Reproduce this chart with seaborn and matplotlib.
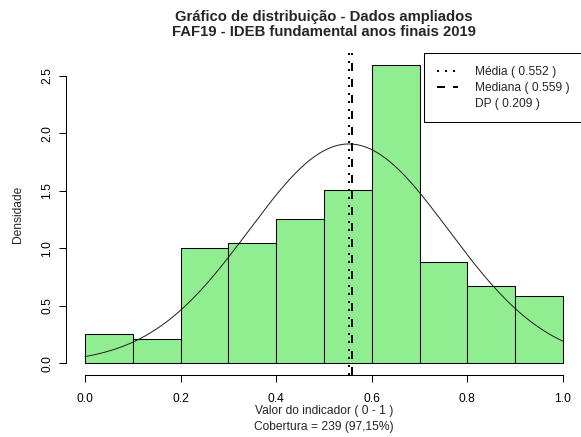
import numpy as np
import matplotlib
matplotlib.use("Agg")
from matplotlib import pyplot as plt
from matplotlib.lines import Line2D
import seaborn as sns

# Histogram data
bin_edges = [0.0, 0.1, 0.2, 0.3, 0.4, 0.5, 0.6, 0.7, 0.8, 0.9, 1.0]
bin_counts = [6, 5, 24, 25, 30, 36, 62, 21, 16, 14]
mean_value = 0.552
median_value = 0.559
sd_value = 0.209
n_total = 239
coverage_pct = "97,15%"

x_ticks = [0.0, 0.2, 0.4, 0.6, 0.8, 1.0]
y_ticks = [0.0, 0.5, 1.0, 1.5, 2.0, 2.5]

title_lines = ["Gráfico de distribuição - Dados ampliados",
               "FAF19 - IDEB fundamental anos finais 2019"]

sns.set_style("ticks")
plt.rcParams["font.family"] = ["Liberation Sans", "DejaVu Sans"]

W, H = 581, 437
fs = 8.64
fig = plt.figure(figsize=(W / 100, H / 100), dpi=100)
ax = fig.add_axes([66 / W, 1 - 375.2 / H, 516 / W, (375.2 - 53.3) / H])

centers = [(a + b) / 2 for a, b in zip(bin_edges[:-1], bin_edges[1:])]
sns.histplot(x=centers, weights=bin_counts, bins=bin_edges, stat="density",
             color="#90EE90", edgecolor="black", linewidth=0.75, alpha=1, ax=ax)

# normal curve with the chart's mean and sd
xs = np.linspace(0, 1, 201)
ys = np.exp(-0.5 * ((xs - mean_value) / sd_value) ** 2) / (sd_value * np.sqrt(2 * np.pi))
sns.lineplot(x=xs, y=ys, color="#222222", linewidth=0.72, ax=ax)

ax.axvline(mean_value, color="black", linewidth=1.44, linestyle=(0, (1, 3)))
ax.axvline(median_value, color="black", linewidth=1.44, linestyle=(0, (4, 4)))

# R-like axis limits (4% expansion)
dens_max = max(bin_counts) / (n_total * 0.1)
ax.set_xlim(-0.04, 1.04)
ax.set_ylim(-0.04 * dens_max, dens_max * 1.04)

ax.set_xticks(x_ticks)
ax.set_xticklabels([f"{v:.1f}" for v in x_ticks], fontsize=fs)
ax.set_yticks(y_ticks)
ax.set_yticklabels([f"{v:.1f}" for v in y_ticks], fontsize=fs, rotation=90, va="center")
ax.tick_params(axis="both", length=5, width=0.75, color="black", labelcolor="black")
ax.tick_params(axis="x", pad=7.6)
ax.tick_params(axis="y", pad=4.2)
sns.despine(ax=ax)
ax.spines["left"].set_bounds(0, 2.5)
ax.spines["bottom"].set_bounds(0, 1)
for s in ("left", "bottom"):
    ax.spines[s].set_linewidth(0.75)
    ax.spines[s].set_color("black")
ax.set_xlabel("")
ax.set_ylabel("")

handles = [Line2D([], [], color="black", linewidth=1.44, linestyle=(0, (1, 3))),
           Line2D([], [], color="black", linewidth=1.44, linestyle=(0, (4, 4))),
           Line2D([], [], linestyle="none")]
labels = [f"Média ( {mean_value} )", f"Mediana ( {median_value} )", f"DP ( {sd_value} )"]
leg = ax.legend(handles, labels, loc="upper right", borderaxespad=0, fontsize=fs,
                frameon=True, fancybox=False, framealpha=1, handlelength=1.75,
                handletextpad=1.4, labelspacing=0.33, borderpad=1.05)
leg.get_frame().set_edgecolor("black")
leg.get_frame().set_linewidth(0.75)

cx = 324 / W
fig.text(cx, 1 - 17.3 / H, title_lines[0], ha="center", va="center", fontsize=10.7, fontweight="bold")
fig.text(cx, 1 - 32.3 / H, title_lines[1], ha="center", va="center", fontsize=10.7, fontweight="bold")
fig.text(cx, 1 - 411 / H, "Valor do indicador ( 0 - 1 )", ha="center", va="center", fontsize=fs)
fig.text(cx, 1 - 427 / H, f"Cobertura = {n_total} ({coverage_pct})", ha="center", va="center", fontsize=fs)
fig.text(17.5 / W, 1 - 214 / H, "Densidade", ha="center", va="center", rotation=90, fontsize=fs)

fig.savefig("out.png", dpi=100)
plt.close(fig)
